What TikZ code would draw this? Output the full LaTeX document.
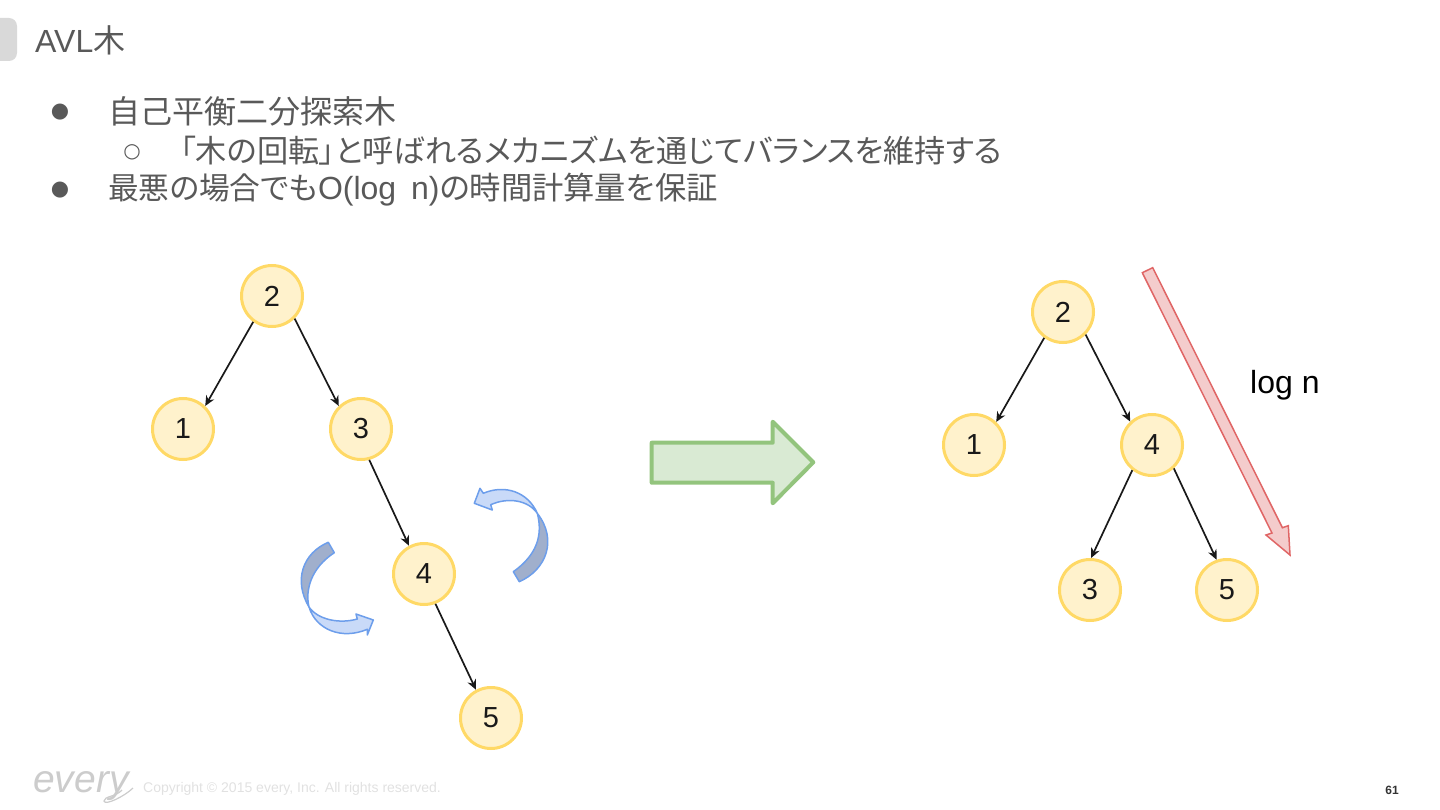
\documentclass[tikz,border=0pt]{standalone}
\usepackage{fontspec}
\setmainfont{Liberation Sans}
\newfontfamily\jpfont[RawFeature=+palt]{Noto Sans CJK JP}
\newfontfamily\symfont{DejaVu Sans}
\usetikzlibrary{arrows.meta}
\definecolor{bodyInk}{RGB}{89,89,89}
\definecolor{tabBg}{RGB}{217,217,217}
\definecolor{keyInk}{RGB}{255,217,102}
\definecolor{keyBg}{RGB}{255,242,204}
\definecolor{goInk}{RGB}{147,196,125}
\definecolor{goBg}{RGB}{217,234,211}
\definecolor{depthInk}{RGB}{224,102,102}
\definecolor{depthBg}{RGB}{244,204,204}
\definecolor{rotInk}{RGB}{109,158,235}
\definecolor{rotBg}{RGB}{201,218,248}
\definecolor{rotBack}{RGB}{160,175,204}
\definecolor{footInk}{RGB}{225,225,225}

\begin{document}
\begin{tikzpicture}[
  x=1pt, y=-1pt,
  key/.style  ={circle, draw=keyInk, line width=3pt, fill=keyBg, minimum size=61pt, inner sep=0pt,
                font=\fontsize{29}{29}\selectfont, text=black!90},
  link/.style ={-{Stealth[length=10pt,width=9pt]}, line width=1.7pt, draw=black!90},
  txt/.style  ={anchor=base west, inner sep=0pt, text=bodyInk, font=\fontsize{32}{32}\selectfont},
  dot/.style  ={inner sep=0pt, text=bodyInk},
  rot/.style  ={draw=rotInk, line width=1.5pt, line join=round},
]
\useasboundingbox (0,0) rectangle (1440,810);

% ================= HEADER =================
\fill[tabBg, rounded corners=8pt] (-12,18) rectangle (17,61);
\node[txt] (title) at (35,53) {AVL{\jpfont 木}};
\node[dot, font=\symfont\fontsize{21}{21}\selectfont] (bul1) at (60,112) {●};
\node[txt, font=\jpfont\fontsize{32}{32}\selectfont] (line1) at (108,124) {自己平衡二分探索木};
\node[dot, font=\symfont\fontsize{20}{20}\selectfont] (bul2) at (132,152) {○};
\node[txt, font=\jpfont\fontsize{31.2}{31.2}\selectfont] (line2) at (180,163)
  {「木の回転」と呼ばれるメカニズムを通じてバランスを維持する};
\node[dot, font=\symfont\fontsize{21}{21}\selectfont] (bul3) at (60,190) {●};
\node[txt] (line3) at (108,200)
  {{\jpfont\fontsize{30.7}{30.7}\selectfont 最悪の場合でも}O(log\hspace{6pt} n){\jpfont\fontsize{31.3}{31.3}\selectfont の時間計算量を保証}};

% ================= LEFT TREE =================
\node[key] (a2) at (272,296) {2};
\node[key] (a1) at (183,429) {1};
\node[key] (a3) at (361,429) {3};
\node[key] (a4) at (424,574) {4};
\node[key] (a5) at (491,718) {5};
\draw[link] (a2.234) -- (a1.46);
\draw[link] (a2.-45) -- (a3.134);
\draw[link] (a3.-75) -- (a4.118);
\draw[link] (a4.-69) -- (a5.118);

% rotation marks
\filldraw[rot, fill=rotBack] (328.3,542.3) .. controls (303,553) and (293,580) .. (309,607)
  .. controls (305,590) and (311,568) .. (334.3,552.7) -- cycle;
\filldraw[rot, fill=rotBg] (309,607) .. controls (316,630) and (342,640) .. (367.3,629.3)
  -- (367.3,635) -- (373.3,620) -- (356,614) -- (357.3,619)
  .. controls (340,624) and (318,620) .. (309,607) -- cycle;
\filldraw[rot, fill=rotBack] (519.3,581.7) .. controls (546,570) and (558,540) .. (537.3,513.3)
  .. controls (543,535) and (537,555) .. (513.3,571.7) -- cycle;
\filldraw[rot, fill=rotBg] (537.3,513.3) .. controls (528,492) and (505,484) .. (483.3,493.3)
  -- (480,488.3) -- (474.3,503.3) -- (492.3,510) -- (490.7,504.7)
  .. controls (508,497) and (528,500) .. (537.3,513.3) -- cycle;

% ================= MIDDLE ARROW =================
\filldraw[draw=goInk, fill=goBg, line width=4pt, line join=round]
  (651.7,442.7) -- (772.7,442.7) -- (772.7,421.7) -- (813.3,462.3)
  -- (772.7,503.3) -- (772.7,482.7) -- (651.7,482.7) -- cycle;

% ================= RIGHT TREE =================
\node[key] (b2) at (1063,312) {2};
\node[key] (b1) at (974,445) {1};
\node[key] (b4) at (1152,445) {4};
\node[key] (b3) at (1090,590) {3};
\node[key] (b5) at (1227,590) {5};
\draw[link] (b2.234) -- (b1.46);
\draw[link] (b2.-45) -- (b4.133);
\draw[link] (b4.232) -- (b3.88);
\draw[link] (b4.-47) -- (b5.109);

\filldraw[draw=depthInk, fill=depthBg, line width=1.5pt, line join=miter]
  (1142.3,272.7) -- (1152.7,267.7) -- (1282.4,527.75) -- (1288.3,525.7) -- (1290,555)
  -- (1266,535) -- (1272,533) -- cycle;
\node[anchor=base west, inner sep=0pt, font=\fontsize{32}{32}\selectfont, text=black] (depth) at (1250,393) {log n};

% ================= FOOTER =================
\node[anchor=base west, inner sep=0pt, font=\fontsize{39}{39}\selectfont\itshape, text=black!20] (logo) at (33,792) {every};
\draw[black!20, line width=1.2pt] (133,788) .. controls (125,796) and (105,806) .. (104,801)
  .. controls (104,796) and (116,797) .. (122,790);
\node[anchor=west, inner sep=0pt, font=\fontsize{14}{14}\selectfont, text=footInk] (copy) at (143,789) {Copyright © 2015 every, Inc. All rights reserved.};
\node[anchor=east, inner sep=0pt, font=\fontsize{12}{12}\selectfont\bfseries, text=black!80] (page) at (1399,790) {61};

\end{tikzpicture}
\end{document}
